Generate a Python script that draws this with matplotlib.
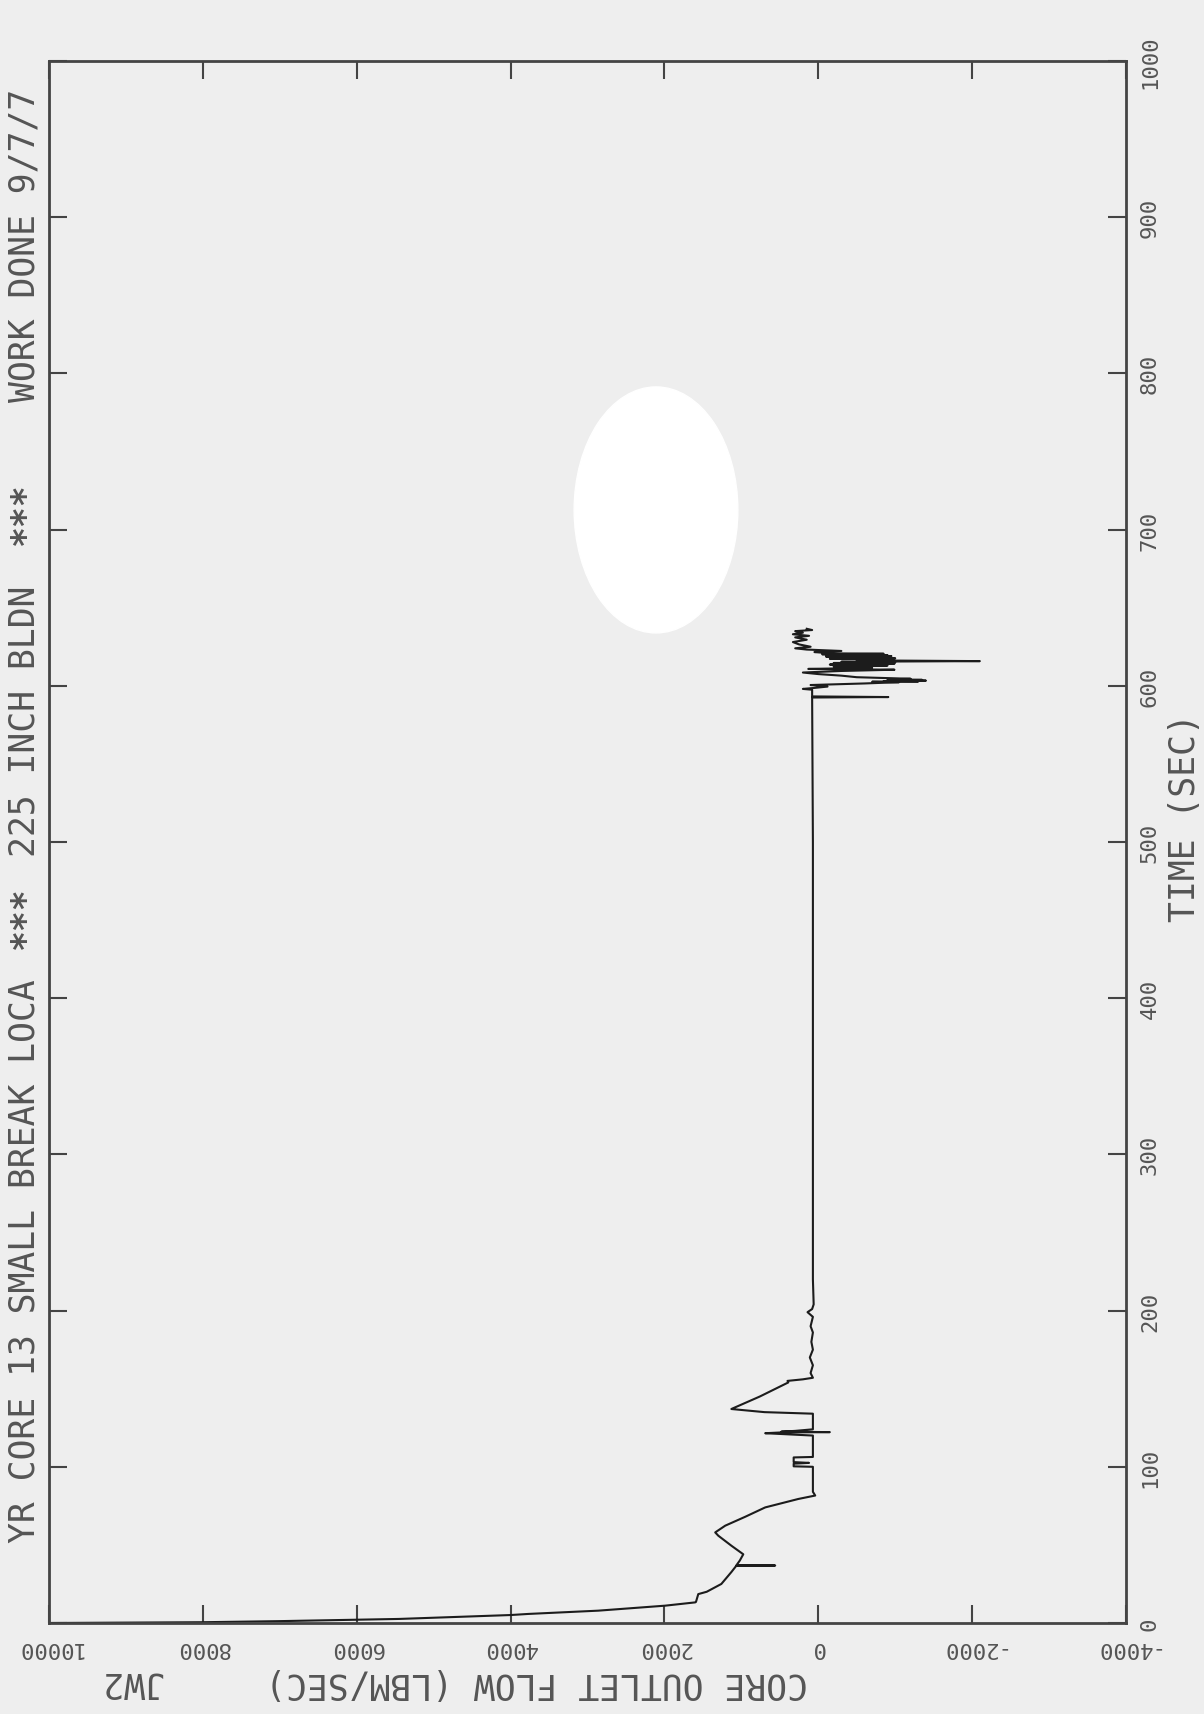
import matplotlib
matplotlib.use("Agg")
import matplotlib.pyplot as plt
from matplotlib.patches import Ellipse

# core outlet flow vs time
time_s = [0, 0.5, 1.2, 2.6, 5.1, 5.8, 7.9, 11.1, 13.2, 13.5, 18.5, 20, 25, 32.6,
          36.7, 36.8, 36.9, 40, 44, 49.5, 55.9, 58, 62.3, 68, 74, 79.4, 81.6,
          84, 100, 100.3, 102, 102.5, 103, 103.5, 106, 106.3, 120, 121, 121.5,
          122, 122.2, 122.5, 123, 124, 134, 135, 137, 145, 154, 155, 156, 157,
          160, 165, 170, 175, 180, 186, 190, 196, 199, 201, 204, 220, 300, 400,
          500, 590, 592.5, 592.8, 593.2, 597.5, 598, 598.6, 599.5, 600.5, 601.5,
          602.3, 602.6, 602.8, 603.0, 603.3, 603.6, 603.8, 604.1, 604.5,
          605.5, 606.5, 607.5, 608.5, 609.5, 610.3, 610.8, 611.5, 612.3,
          613.0, 613.6, 614.2, 614.6, 615.0, 615.4, 615.8, 616.3, 617.0,
          617.3, 617.6, 618.0, 618.3, 618.7, 619.0, 619.3, 619.6, 620.2,
          620.5, 620.8, 621.6, 622.3, 623.2, 624.0, 625.0, 626.5, 628.0,
          629.5, 631.0, 632.0, 633.0, 634.0, 635.0, 635.7, 636.5]
flow_lbm = [10000, 8000, 7000, 5450, 4000, 3770, 2860, 1990, 1600, 1590, 1560,
            1450, 1260, 1130, 1065, 560, 1065, 1020, 975, 1130, 1300, 1340, 1210,
            950, 690, 260, 40, 70, 70, 320, 320, 120, 320, 320, 320, 70, 70, 480,
            690, 480, -150, 480, 300, 70, 70, 700, 1130, 760, 390, 400, 200, 70,
            100, 70, 110, 70, 90, 70, 100, 70, 140, 80, 60, 70, 70, 70, 70, 80, 80,
            -910, 80, 80, 200, 60, -120, 100, -600,
            -1050, -700, -1300, -850, -1400, -950, -1350, -900, -1200,
            -500, -300, 0, 200, -300, -990, 130, -700, -200,
            -900, -150, -990, -200, -1000, -300, -2100, -500, -950,
            -150, -1000, -200, -850, -100, -950, -100, -900, -50,
            -850, -150, 50, -300, 150, 300, 100, 250, 330,
            150, 300, 120, 330, 200, 300, 80, 150]

flow_ticks = [10000, 8000, 6000, 4000, 2000, 0, -2000, -4000]
flow_labels = ["10000", "8000", "6000", "4000", "2000", "0", "-2000", "-4000"]
time_ticks = [0, 100, 200, 300, 400, 500, 600, 700, 800, 900, 1000]
time_labels = [str(t) for t in time_ticks]

PAPER = "#eeeeee"
INK = "#555555"
MONO = "DejaVu Sans Mono"

fig = plt.figure(figsize=(12.04, 17.15), dpi=100, facecolor=PAPER)
ax = fig.add_axes([49 / 1204, 91 / 1715, 1077 / 1204, 1562 / 1715], facecolor=PAPER)

ax.plot(flow_lbm, time_s, color="#1c1c1c", lw=1.5)
ax.set_xlim(10000, -4000)
ax.set_ylim(0, 1000)

ax.set_xticks(flow_ticks)
ax.set_xticklabels(flow_labels, rotation=180, family=MONO, fontsize=16, color=INK)
ax.set_yticks(time_ticks)
ax.set_yticklabels(time_labels, rotation=90, family=MONO, fontsize=16, color=INK,
                   va="center")
ax.tick_params(direction="in", length=13, width=1.5, color="#444444",
               top=True, right=True, left=True, bottom=True,
               labelleft=False, labelright=True, labelbottom=True, pad=10)
for sp in ax.spines.values():
    sp.set_linewidth(2)
    sp.set_color("#444444")

# white paper defect in the scan
ax.add_patch(Ellipse((0.5636, 0.7126), 0.152, 0.1575, transform=ax.transAxes,
                     color="white", zorder=3))

# axis titles, turned with the page
fig.text(537 / 1204, 1 - 1683 / 1715, "CORE OUTLET FLOW (LBM/SEC)", rotation=180,
         ha="center", va="center", family=MONO, fontsize=25, color=INK)
fig.text(131 / 1204, 1 - 1683 / 1715, "JW2", rotation=180,
         ha="center", va="center", family=MONO, fontsize=25, color=INK)
fig.text(1185 / 1204, 1 - 818 / 1715, "TIME (SEC)", rotation=90,
         ha="center", va="center", family=MONO, fontsize=25, color=INK)

# run title along the left edge (centre of each piece, in pixels from top)
title_parts = [("YR CORE 13 SMALL BREAK LOCA", 1261, "normal"),
               ("***", 918, "bold"),
               ("225 INCH BLDN", 721, "normal"),
               ("***", 514, "bold"),
               ("WORK DONE 9/7/7", 245, "normal")]
for txt, ypix, weight in title_parts:
    fig.text(25 / 1204, 1 - ypix / 1715, txt, rotation=90, ha="center",
             va="center", family=MONO, fontsize=25, fontweight=weight, color=INK)

fig.savefig("out.png", dpi=100, facecolor=PAPER)
